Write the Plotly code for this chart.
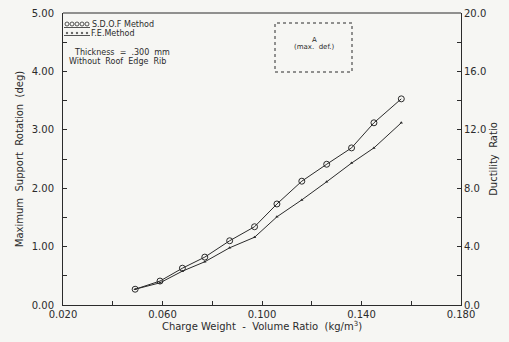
import plotly.graph_objects as go

# Charge weight - volume ratio (kg/m^3)
charge_ratio = [0.049, 0.059, 0.068, 0.077, 0.087, 0.097, 0.106, 0.116, 0.126, 0.136, 0.145, 0.156]
# Maximum support rotation (deg)
sdof_rotation = [0.27, 0.41, 0.63, 0.82, 1.10, 1.34, 1.73, 2.12, 2.41, 2.69, 3.12, 3.53]
fe_rotation = [0.27, 0.38, 0.58, 0.74, 0.98, 1.16, 1.51, 1.80, 2.11, 2.43, 2.69, 3.12]

x_tick_vals = [0.020, 0.060, 0.100, 0.140, 0.180]
x_tick_text = ["0.020", "0.060", "0.100", "0.140", "0.180"]

ink = "#2b2b2b"
paper = "#f6f6f3"
font = dict(family="DejaVu Sans", size=10, color=ink)

W, H = 509, 342
ML, MR, MT, MB = 63, 48, 13, 37
X0, X1, Y0, Y1 = 0.02, 0.18, 0.0, 5.0


def px_x(p):
    """pixel column -> x data value (used for decoration placement)"""
    return X0 + (p - ML) / (W - ML - MR) * (X1 - X0)


def px_y(p):
    """pixel row -> left-axis data value (used for decoration placement)"""
    return Y1 - (p - MT) / (H - MT - MB) * (Y1 - Y0)


fig = go.Figure()
fig.add_trace(go.Scatter(
    x=charge_ratio, y=sdof_rotation, mode="lines+markers",
    line=dict(color=ink, width=1),
    marker=dict(symbol="circle-open", size=6, color=ink, line=dict(width=1)),
    name="S.D.O.F Method", showlegend=False))
fig.add_trace(go.Scatter(
    x=charge_ratio, y=fe_rotation, mode="lines+markers",
    line=dict(color=ink, width=1),
    marker=dict(symbol="triangle-up", size=3, color=ink),
    name="F.E. Method", showlegend=False))
# ductility-ratio axis carrier
fig.add_trace(go.Scatter(x=[0.1], y=[0], yaxis="y2", mode="markers",
                         marker=dict(opacity=0), showlegend=False, hoverinfo="skip"))

axis_common = dict(showline=True, linecolor=ink, linewidth=1, mirror=False,
                   ticks="inside", ticklen=4, tickcolor=ink, showgrid=False,
                   zeroline=False, tickfont=font, automargin=False)

title_font = dict(family="DejaVu Sans", size=10, color=ink)

fig.update_layout(
    width=W, height=H,
    margin=dict(l=ML, r=MR, t=MT, b=MB),
    paper_bgcolor=paper, plot_bgcolor=paper,
    font=font,
    xaxis=dict(range=[X0, X1], tickvals=x_tick_vals, ticktext=x_tick_text,
               minor=dict(dtick=0.02, tick0=0.02, ticks="inside", ticklen=4, tickcolor=ink),
               title=dict(text="Charge Weight  -  Volume Ratio  (kg/m<sup>3</sup>)",
                          font=title_font, standoff=2),
               **axis_common),
    yaxis=dict(range=[Y0, Y1], dtick=1, tickformat=".2f",
               minor=dict(dtick=0.5, ticks="inside", ticklen=4, tickcolor=ink),
               title=dict(text="Maximum  Support  Rotation  (deg)",
                          font=title_font, standoff=6),
               ticklabelstandoff=6,
               **axis_common),
    yaxis2=dict(range=[0, 20], dtick=4, tickformat=".1f", overlaying="y", side="right",
                minor=dict(dtick=2, ticks="inside", ticklen=4, tickcolor=ink),
                title=dict(text="Ductility  Ratio", font=title_font, standoff=4),
                **axis_common),
)

# top border of the frame
fig.add_shape(type="line", xref="paper", yref="paper", x0=0, x1=1, y0=1, y1=1,
              line=dict(color=ink, width=1))

# legend text and case notes
notes = [
    (90, 24, "S.D.O.F Method"),
    (89, 33, "F.E.Method"),
    (72, 52, "Thickness  =  .300  mm"),
    (67, 61, "Without  Roof  Edge  Rib"),
]
for cx, cy, txt in notes:
    fig.add_annotation(x=px_x(cx), y=px_y(cy), text=txt, showarrow=False, xanchor="left",
                       yanchor="middle", font=dict(family="DejaVu Sans", size=8, color=ink))

# legend samples: row of open circles, row of dots, each underlined
for cx in [67, 72, 77, 82, 87]:
    fig.add_shape(type="circle", x0=px_x(cx - 2), x1=px_x(cx + 2), y0=px_y(26), y1=px_y(22),
                  line=dict(color=ink, width=0.8))
    fig.add_shape(type="circle", x0=px_x(cx - 0.8), x1=px_x(cx + 0.8), y0=px_y(33.8), y1=px_y(32.2),
                  fillcolor=ink, line=dict(color=ink, width=0.5))
fig.add_shape(type="line", x0=px_x(64), x1=px_x(90), y0=px_y(27.5), y1=px_y(27.5),
              line=dict(color=ink, width=0.8))
fig.add_shape(type="line", x0=px_x(64), x1=px_x(90), y0=px_y(35.5), y1=px_y(35.5),
              line=dict(color=ink, width=0.8))

# inset sketch of the slab
fig.add_shape(type="rect", x0=px_x(275), x1=px_x(352), y0=px_y(72), y1=px_y(23),
              line=dict(color=ink, width=1, dash="dot"))
fig.add_annotation(x=px_x(314), y=px_y(40), text="A", showarrow=False,
                   font=dict(family="DejaVu Sans", size=7, color=ink))
fig.add_annotation(x=px_x(314), y=px_y(47), text="(max.  def.)", showarrow=False,
                   font=dict(family="DejaVu Sans", size=7, color=ink))

fig.write_html("out.html")
